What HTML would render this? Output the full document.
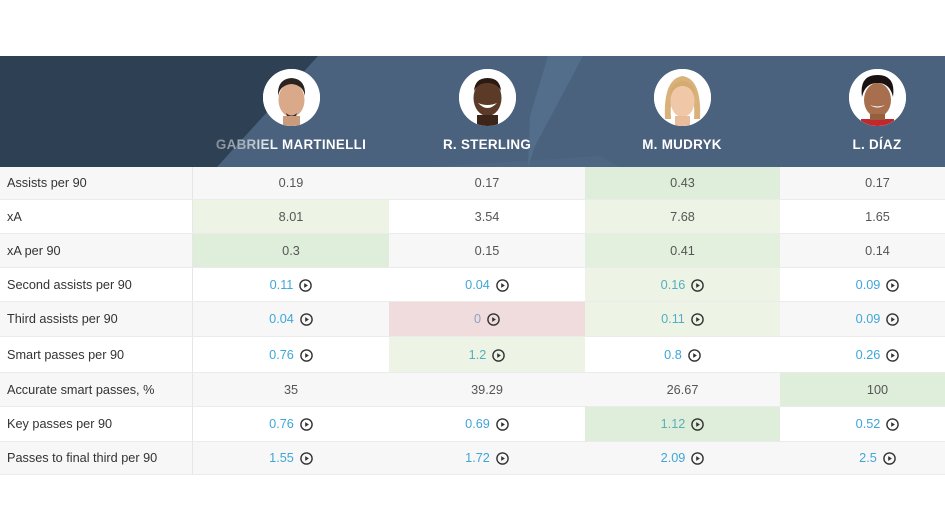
<!DOCTYPE html>
<html><head><meta charset="utf-8">
<style>
html,body{margin:0;padding:0;}
body{width:945px;height:532px;background:#fff;overflow:hidden;position:relative;font-family:"Liberation Sans",Arial,sans-serif;}
#hdr{position:absolute;left:0;top:56px;width:945px;height:111px;overflow:hidden;}
.av{position:absolute;top:13px;width:57px;height:57px;border-radius:50%;overflow:hidden;background:#fff;}
.nm{position:absolute;top:81px;width:240px;text-align:center;color:#fff;font-weight:bold;font-size:13.4px;letter-spacing:0.3px;}
.row{position:absolute;left:0;width:945px;border-bottom:1px solid #ebebeb;box-sizing:border-box;}
.lab{position:absolute;left:0;top:0;width:193px;height:100%;border-right:1px solid #e6e6e6;box-sizing:border-box;display:flex;align-items:center;padding-left:7px;font-size:12.7px;color:#333;}
.c{position:absolute;top:0;height:100%;display:flex;align-items:center;justify-content:center;font-size:12.7px;color:#555;}
.pi{display:inline-block;width:13px;height:13px;margin-left:6px;margin-top:1px;}
</style></head><body>
<div id="hdr">
<svg width="945" height="111" style="position:absolute;left:0;top:0">
<rect x="0" y="0" width="945" height="111" fill="#4a627d"/>
<polygon points="0,0 318,0 217,111 0,111" fill="#2e4053"/>
<polygon points="548,0 583,0 535,90 528,111 530,60" fill="#557391" opacity="0.7"/>
<polygon points="430,111 600,100 620,111" fill="#52708c" opacity="0.35"/>
</svg>
<!-- Martinelli -->
<div class="av" style="left:263px">
<svg width="57" height="57" viewBox="0 0 57 57"><rect width="57" height="57" fill="#fff"/>
<ellipse cx="28.5" cy="31" rx="13" ry="17" fill="#d9a98a"/>
<path d="M15 27 Q14 10 28.5 9 Q43 10 42 27 Q40 16 28.5 15 Q17 16 15 27Z" fill="#2a2320"/>
<path d="M23 44 Q28.5 49 34 44 L33 47 Q28.5 50 24 47Z" fill="#3a2e28"/>
<rect x="20" y="47" width="17" height="10" fill="#c99a7c"/>
</svg></div>
<!-- Sterling -->
<div class="av" style="left:459px">
<svg width="57" height="57" viewBox="0 0 57 57"><rect width="57" height="57" fill="#fff"/>
<ellipse cx="28.5" cy="29" rx="14" ry="18" fill="#5b3a28"/>
<path d="M15 22 Q16 9 28.5 9 Q41 9 42 22 Q38 14 28.5 14 Q19 14 15 22Z" fill="#2a1a12"/>
<path d="M19 34 Q28.5 44 38 34 Q28.5 38 19 34Z" fill="#fff"/>
<rect x="18" y="46" width="21" height="11" fill="#3d2619"/>
</svg></div>
<!-- Mudryk -->
<div class="av" style="left:654px">
<svg width="57" height="57" viewBox="0 0 57 57"><rect width="57" height="57" fill="#fff"/>
<path d="M11 50 Q9 10 28.5 7 Q48 10 46 50 L40 50 Q42 20 28.5 16 Q15 20 17 50Z" fill="#d8b27a"/>
<ellipse cx="28.5" cy="32" rx="12" ry="16" fill="#f0c8a8"/>
<path d="M16 28 Q16 13 28.5 12 Q41 13 41 28 Q37 17 28.5 17 Q20 17 16 28Z" fill="#d4ab70"/>
<rect x="21" y="47" width="15" height="10" fill="#e9bc9b"/>
</svg></div>
<!-- Diaz -->
<div class="av" style="left:849px">
<svg width="57" height="57" viewBox="0 0 57 57"><rect width="57" height="57" fill="#fff"/>
<ellipse cx="28.5" cy="31" rx="13.5" ry="17" fill="#a86f4f"/>
<path d="M13 28 Q10 6 28.5 6 Q47 6 44 28 Q41 14 28.5 14 Q16 14 13 28Z" fill="#1a1210"/>
<path d="M21 36 Q28.5 41 36 36 Q28.5 39 21 36Z" fill="#fff"/>
<rect x="12" y="50" width="33" height="7" fill="#c0282c"/>
<rect x="21" y="45" width="15" height="6" fill="#96603f"/>
</svg></div>
<div class="nm" style="left:171px"><span style="background:linear-gradient(90deg,#838e9b 0%,#aab3bd 20%,#ffffff 40%,#ffffff 100%);-webkit-background-clip:text;background-clip:text;color:transparent;">GABRIEL MARTINELLI</span></div>
<div class="nm" style="left:367px">R. STERLING</div>
<div class="nm" style="left:562px">M. MUDRYK</div>
<div class="nm" style="left:757px">L. DÍAZ</div>
</div>

<div id="tbl"></div>
<script>
var rows=[
["Assists per 90",0,[["0.19"],["0.17"],["0.43","G"],["0.17"]],167,33],
["xA",0,[["8.01","L"],["3.54"],["7.68","L"],["1.65"]],200,34],
["xA per 90",0,[["0.3","G"],["0.15"],["0.41","M"],["0.14"]],234,34],
["Second assists per 90",1,[["0.11"],["0.04"],["0.16","L"],["0.09"]],268,34],
["Third assists per 90",1,[["0.04"],["0","R"],["0.11","L"],["0.09"]],302,35],
["Smart passes per 90",1,[["0.76"],["1.2","L"],["0.8"],["0.26"]],337,36],
["Accurate smart passes, %",0,[["35"],["39.29"],["26.67"],["100","G"]],373,34],
["Key passes per 90",1,[["0.76"],["0.69"],["1.12","G"],["0.52"]],407,35],
["Passes to final third per 90",1,[["1.55"],["1.72"],["2.09"],["2.5"]],442,33]
];
var cols=[[193,196],[389,196],[585,195],[780,195]];
var bgc={G:"#dfeedb",M:"#e4f0de",L:"#edf4e6",R:"#f0dcdd"};
var lkc={G:"#5aaeb6",M:"#5aaeb6",L:"#55aec0",R:"#8aa2c6"};
var icon='<svg class="pi" viewBox="0 0 13 13"><circle cx="6.5" cy="6.5" r="5.6" fill="none" stroke="#333" stroke-width="1.4"/><path d="M5.2 4.1 L8.9 6.5 L5.2 8.9Z" fill="#333"/></svg>';
var h="";
rows.forEach(function(r,i){
 var bg=(i%2==0)?"#f7f7f7":"#ffffff";
 h+='<div class="row" style="top:'+r[3]+'px;height:'+r[4]+'px;background:'+bg+'">';
 h+='<div class="lab">'+r[0]+'</div>';
 r[2].forEach(function(v,j){
  var st='left:'+cols[j][0]+'px;width:'+cols[j][1]+'px;';
  if(v[1])st+='background:'+bgc[v[1]]+';';
  var txt;
  if(r[1]){var col=v[1]?lkc[v[1]]:"#3fa6d8";txt='<span style="color:'+col+'">'+v[0]+'</span>'+icon;}
  else txt='<span>'+v[0]+'</span>';
  h+='<div class="c" style="'+st+'">'+txt+'</div>';
 });
 h+='</div>';
});
document.getElementById("tbl").innerHTML=h;
</script>
</body></html>
